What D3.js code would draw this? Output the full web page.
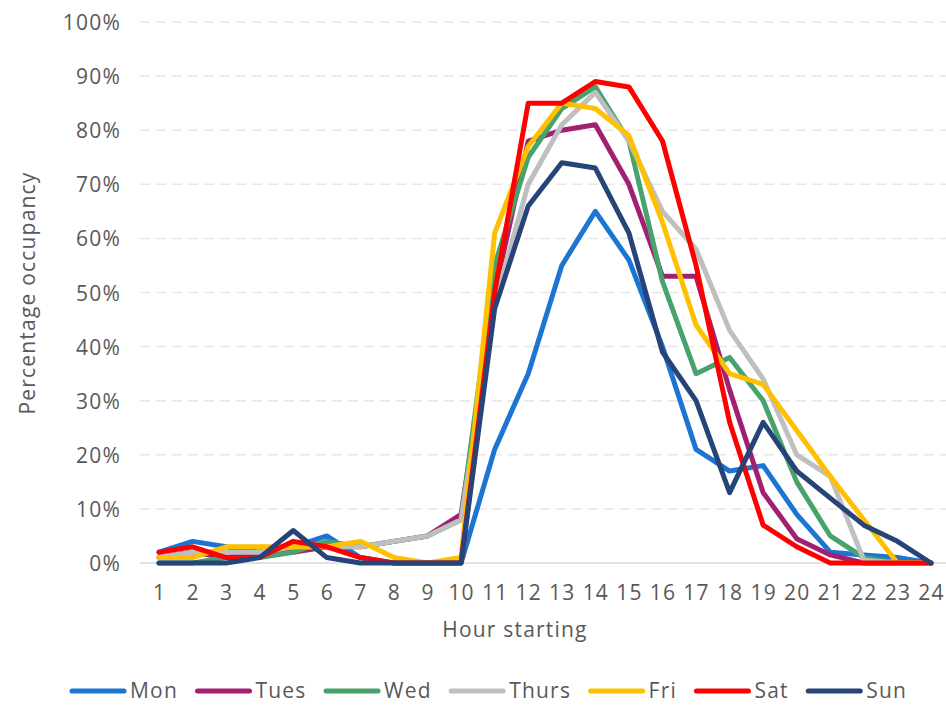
<!DOCTYPE html>
<html><head><meta charset="utf-8">
<script src="https://cdn.jsdelivr.net/npm/d3@7"></script>
<style>
body{margin:0;background:#fff;}
text{font-family:"Open Sans",sans-serif;fill:#595959;letter-spacing:1.2px;}
</style></head>
<body><svg id="c" width="946" height="705"></svg>
<script>
const hours = [1,2,3,4,5,6,7,8,9,10,11,12,13,14,15,16,17,18,19,20,21,22,23,24];
const yTicks = [0,10,20,30,40,50,60,70,80,90,100];
const days = ["Mon","Tues","Wed","Thurs","Fri","Sat","Sun"];
const colors = ["#1C75D2","#A12171","#47A26B","#BFBFBF","#FFC000","#FF0000","#264478"];
const mon   = [2,4,3,2,3,5,1,0,0,0,21,35,55,65,56,40,21,17,18,9,2,1.5,1,0];
const tues  = [1,2,1,2,2,3,3,4,5,9,50,78,80,81,70,53,53,32,13,4.5,1.5,0,0,0];
const wed   = [0,0,1,1,2,4,3,4,5,8,55,75,84,88,78,52,35,38,30,15,5,1,0,0];
const thurs = [1,2,2,2,3,3,3,4,5,8,48,70,81,87,78,65,58,43,34,20,16,0.5,0,0];
const fri   = [1,1,3,3,3,3,4,1,0,1,61,77,85,84,79,63,44,35,33,24.5,16,8,0,0];
const sat   = [2,3,1,1,4,3,1,0,0,0,50,85,85,89,88,78,55,26,7,3,0,0,0,0];
const sun   = [0,0,0,1,6,1,0,0,0,0,47,66,74,73,61,39,30,13,26,17,12,7,4,0];
const series = [mon,tues,wed,thurs,fri,sat,sun];

const svg = d3.select("#c");
const x = d3.scalePoint().domain(hours).range([159,931]);
const y = d3.scaleLinear().domain([0,100]).range([563,22]);
const FS = 21;

// gridlines
svg.append("g").selectAll("line").data(yTicks.filter(d=>d>0)).join("line")
  .attr("x1",140).attr("x2",946).attr("y1",d=>y(d)).attr("y2",d=>y(d))
  .attr("stroke","#E6E6E6").attr("stroke-width",1.5).attr("stroke-dasharray","10,6");
svg.append("line").attr("x1",140).attr("x2",946).attr("y1",y(0)).attr("y2",y(0))
  .attr("stroke","#D9D9D9").attr("stroke-width",1.5);

// y axis labels
const ya = svg.append("g").attr("transform","translate(121,0)")
  .call(d3.axisLeft(y).tickValues(yTicks).tickFormat(d=>d+"%").tickSize(0).tickPadding(0));
ya.select(".domain").remove();
ya.selectAll("text").attr("font-size",FS).style("font-family","Open Sans").attr("fill","#595959")
  .attr("dy","0.36em");

// x axis labels
const xa = svg.append("g")
  .call(d3.axisBottom(x).tickSize(0).tickPadding(0));
xa.select(".domain").remove();
xa.selectAll("text").attr("font-size",FS).style("font-family","Open Sans").attr("fill","#595959")
  .attr("y",600).attr("dy",null);

svg.append("text").attr("x",515).attr("y",637).attr("text-anchor","middle")
  .attr("font-size",FS).text("Hour starting");
svg.append("text").attr("transform","translate(35,293) rotate(-90)").attr("text-anchor","middle")
  .attr("font-size",FS).text("Percentage occupancy");

// lines
const line = d3.line().x((d,i)=>x(hours[i])).y(d=>y(d));
svg.append("g").selectAll("path").data(series).join("path")
  .attr("d",line).attr("fill","none").attr("stroke",(d,i)=>colors[i])
  .attr("stroke-width",5).attr("stroke-linejoin","round").attr("stroke-linecap","round");

// legend
const lg = svg.append("g");
let cx = 72;
days.forEach((d,i)=>{
  lg.append("line").attr("x1",cx).attr("x2",cx+52).attr("y1",691).attr("y2",691)
    .attr("stroke",colors[i]).attr("stroke-width",5).attr("stroke-linecap","round");
  const t = lg.append("text").attr("x",cx+58).attr("y",698).attr("font-size",FS).text(d);
  cx = cx + 58 + t.node().getComputedTextLength() + 19.5;
});
</script></body></html>
